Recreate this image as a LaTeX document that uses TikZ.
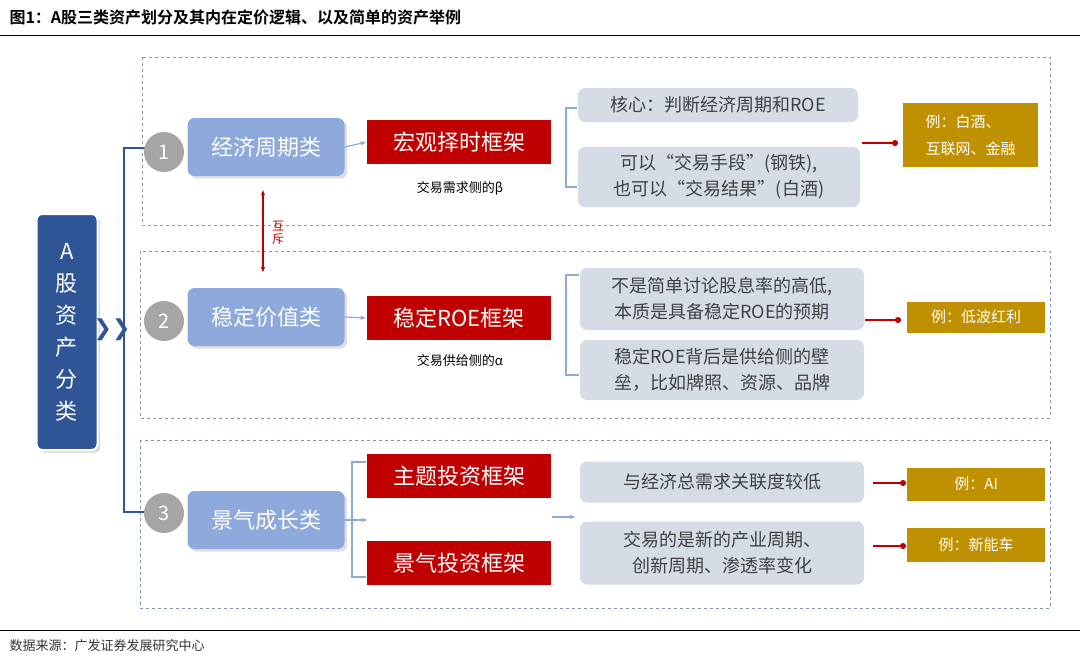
\documentclass[tikz,border=0pt]{standalone}
\usepackage{fontspec}
\setmainfont{Noto Sans CJK SC}
\newfontfamily\cjkb{Noto Sans CJK SC}[BoldFont={* Bold}]
\usetikzlibrary{arrows.meta,shadows}
\definecolor{dblue}{HTML}{2F5597}
\definecolor{lblue}{HTML}{8EA9DB}
\definecolor{cred}{HTML}{C00000}
\definecolor{gbox}{HTML}{D6DCE5}
\definecolor{gold}{HTML}{BF9000}
\definecolor{dash}{HTML}{8497B0}
\tikzset{
 grp/.style={draw=dash,dashed,line width=1pt},
 cat/.style={fill=lblue,rounded corners=7pt,text=white,font=\fontsize{22}{26}\selectfont,minimum width=157pt,minimum height=58pt,drop shadow={opacity=0.25}},
 num/.style={circle,fill=gray!70,text=white,minimum size=40pt,font=\fontsize{20}{22}\selectfont},
 redb/.style={fill=cred,text=white,font=\fontsize{22}{26}\selectfont,minimum width=184pt,minimum height=44pt},
 gb/.style={fill=gbox,rounded corners=7pt,text=black!75,font=\fontsize{18}{26}\selectfont,align=center,minimum width=284pt},
 gd/.style={fill=gold,text=white,font=\fontsize{15}{27}\selectfont,align=left,minimum width=138pt,anchor=west},
 lb/.style={-{Latex[length=6pt]},draw=lblue,line width=1.2pt},
 rd/.style={draw=cred,line width=1.5pt,-{Circle[length=6pt]}},
 sub/.style={font=\fontsize{13}{15}\selectfont}
}
\begin{document}
\begin{tikzpicture}[x=1pt,y=-1pt]
\useasboundingbox (0,0) rectangle (1080,657);
\node[anchor=west,font=\cjkb\bfseries\fontsize{16}{18}\selectfont] (title) at (6,17) {图1：A股三类资产划分及其内在定价逻辑、以及简单的资产举例};
\draw[line width=1pt] (0,35) -- (1080,35);
\draw[line width=1pt] (0,630) -- (1080,630);
\node[anchor=west,font=\fontsize{13}{15}\selectfont,text=black!80] (src) at (6,646) {数据来源：广发证券发展研究中心};
% groups
\draw[grp] (142,57) rectangle (1050,225);
\draw[grp] (140,251) rectangle (1050,418);
\draw[grp] (140,440) rectangle (1050,608);
% A box
\node[fill=dblue,draw=white,line width=2pt,rounded corners=6pt,minimum width=61pt,minimum height=236pt,text=white,align=center,font=\fontsize{22}{32}\selectfont,drop shadow={opacity=0.3}] (A) at (67,332) {A\\股\\资\\产\\分\\类};
\node[text=dblue,font=\bfseries\fontsize{22}{22}\selectfont,inner sep=0pt] (chev) at (112,330) {{\fontspec{DejaVu Sans}❯❯}};
% bracket
\coordinate (bt) at (124,148);
\coordinate (bb) at (124,512);
\draw[dblue,line width=2pt] (145,148) -- (bt) -- (bb) -- (145,512);
% categories
\node[cat] (c1) at (266,147) {经济周期类};
\node[cat] (c2) at (266,317) {稳定价值类};
\node[cat] (c3) at (266,520) {景气成长类};
\node[num] (n1) at (164,152) {1};
\node[num] (n2) at (164,321) {2};
\node[num] (n3) at (164,513) {3};
% mutual exclusion
\draw[cred,line width=1.5pt,{Latex[length=6pt]}-{Latex[length=6pt]}] (c1.south -| 263,0) ++(0,13) coordinate (m1) -- (263,273) coordinate (m2);
\node[text=cred,font=\fontsize{12}{13}\selectfont,align=center,inner sep=0pt] (mx) at (278,233) {互\\斥};
% red boxes
\node[redb] (r1) at (459,142) {宏观择时框架};
\node[sub] (s1) at (460,188) {交易需求侧的β};
\node[redb] (r2) at (459,318) {稳定ROE框架};
\node[sub] (s2) at (460,361) {交易供给侧的α};
\node[redb] (r3) at (459,476) {主题投资框架};
\node[redb] (r4) at (459,563) {景气投资框架};
\draw[lb] (c1.east) -- (r1.west);
\draw[lb] (c2.east) -- (r2.west);
\draw[lb] (c3.east) -- (368,520);
\draw[lblue,line width=1.2pt] (366,462) -- (352,462) -- (352,577) -- (366,577);
% gray boxes
\node[gb,minimum width=280pt,minimum height=34pt] (g1) at (718,105) {核心：判断经济周期和ROE};
\node[gb,minimum width=282pt,minimum height=60pt] (g2) at (719,177) {可以“交易手段”(钢铁),\\也可以“交易结果”(白酒)};
\draw[lblue,line width=1.2pt] (577,108) -- (566,108) -- (566,187) -- (577,187);
\node[gb,minimum height=62pt] (g3) at (722,299) {不是简单讨论股息率的高低,\\本质是具备稳定ROE的预期};
\node[gb,minimum height=60pt] (g4) at (722,370) {稳定ROE背后是供给侧的壁\\垒，比如牌照、资源、品牌};
\draw[lblue,line width=1.2pt] (579,275) -- (566,275) -- (566,375) -- (579,375);
\node[gb,minimum height=41pt] (g5) at (722,482) {与经济总需求关联度较低};
\node[gb,minimum height=63pt] (g6) at (722,553) {交易的是新的产业周期、\\创新周期、渗透率变化};
\draw[lb] (552,517) -- (576,517);
% gold
\node[gd,minimum width=135pt,minimum height=64pt] (y1) at (903,135) {例：白酒、\\互联网、金融};
\node[gd,minimum height=31pt] (y2) at (907,317) {例：低波红利};
\node[gd,minimum height=33pt] (y3) at (907,484) {例：AI};
\node[gd,minimum height=34pt] (y4) at (907,545) {例：新能车};
\draw[rd] (862,143) -- (898,143);
\draw[rd] (865,320) -- (901,320);
\draw[rd] (873,483) -- (906,483);
\draw[rd] (873,546) -- (906,546);
\end{tikzpicture}
\end{document}
